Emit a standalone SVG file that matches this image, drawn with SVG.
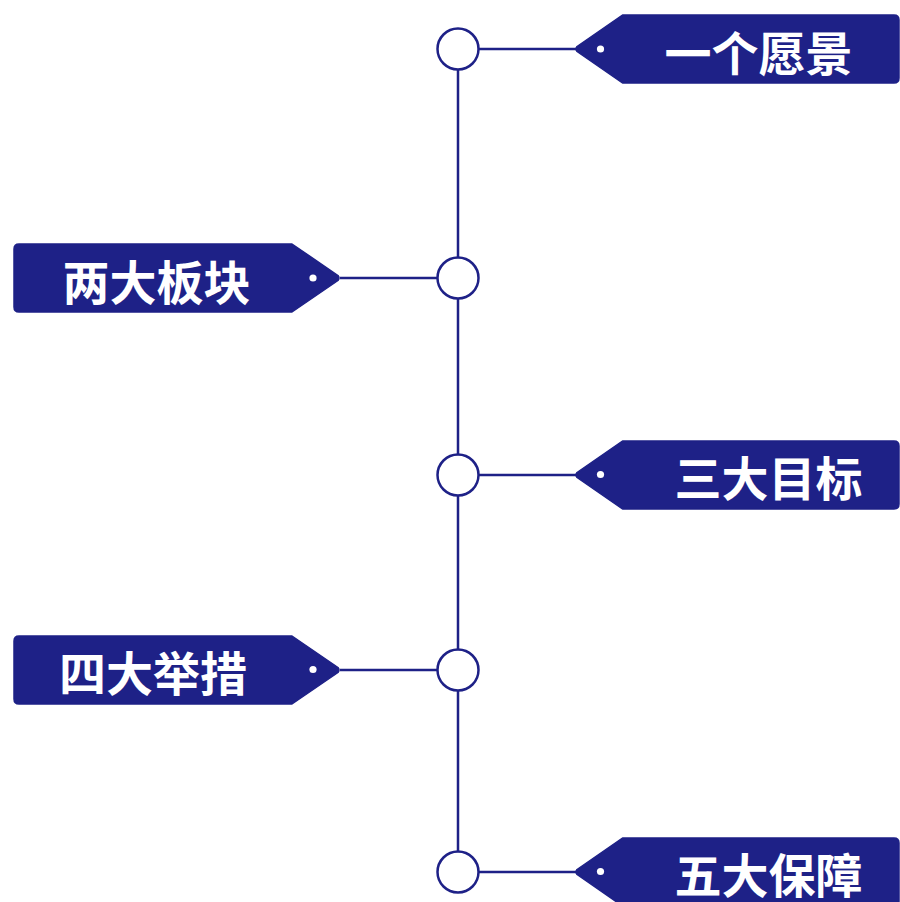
<svg xmlns="http://www.w3.org/2000/svg" width="900" height="902" viewBox="0 0 900 902">
<style>
.tag{fill:#1E2187;stroke:#1E2187;stroke-width:1.5;stroke-linejoin:round}
.dot{fill:#ffffff}
.lbl{fill:#ffffff;font-family:"Noto Sans CJK SC","Noto Sans",sans-serif;font-weight:bold;font-size:47px;text-anchor:middle}
.ln{stroke:#1E2187;stroke-width:2.5;fill:none}
.node{fill:#ffffff;stroke:#1E2187;stroke-width:2.5}
</style>
<rect width="900" height="902" fill="#ffffff"/>
<g id="connectors">
<line class="ln" x1="458" y1="49" x2="458" y2="872"/>
<line class="ln" x1="458" y1="49" x2="576" y2="49"/>
<line class="ln" x1="340" y1="278" x2="458" y2="278"/>
<line class="ln" x1="458" y1="475" x2="576" y2="475"/>
<line class="ln" x1="340" y1="670" x2="458" y2="670"/>
<line class="ln" x1="458" y1="872" x2="576" y2="872"/>
</g>
<g id="n1">
<circle class="node" cx="458" cy="49" r="20.5"/>
<path class="tag" d="M622.5,15 H894 Q899,15 899,20 V78 Q899,83 894,83 H622.5 L577,51.5 Q575,49 577,46.5 Z"/>
<circle class="dot" cx="600.5" cy="49" r="3.6"/>
<text class="lbl" x="758.5" y="70.5">一个愿景</text>
</g>
<g id="n2">
<circle class="node" cx="458" cy="278" r="20.5"/>
<path class="tag" d="M292,244 H19 Q14,244 14,249 V307 Q14,312 19,312 H292 L338,280.5 Q340,278 338,275.5 Z"/>
<circle class="dot" cx="313" cy="278" r="3.6"/>
<text class="lbl" x="156.5" y="299.5">两大板块</text>
</g>
<g id="n3">
<circle class="node" cx="458" cy="475" r="20.5"/>
<path class="tag" d="M622.5,441 H894 Q899,441 899,446 V504 Q899,509 894,509 H622.5 L577,477.5 Q575,475 577,472.5 Z"/>
<circle class="dot" cx="600.5" cy="474.5" r="3.6"/>
<text class="lbl" x="768.5" y="495.5">三大目标</text>
</g>
<g id="n4">
<circle class="node" cx="458" cy="670" r="20.5"/>
<path class="tag" d="M292,636 H19 Q14,636 14,641 V699 Q14,704 19,704 H292 L338,672.5 Q340,670 338,667.5 Z"/>
<circle class="dot" cx="313" cy="669.5" r="3.6"/>
<text class="lbl" x="153" y="690.5">四大举措</text>
</g>
<g id="n5">
<circle class="node" cx="458" cy="872" r="20.5"/>
<path class="tag" d="M622.5,838 H894 Q899,838 899,843 V901 Q899,906 894,906 H622.5 L577,874.5 Q575,872 577,869.5 Z"/>
<circle class="dot" cx="600.5" cy="871.5" r="3.6"/>
<text class="lbl" x="768.5" y="892.5">五大保障</text>
</g>
</svg>
